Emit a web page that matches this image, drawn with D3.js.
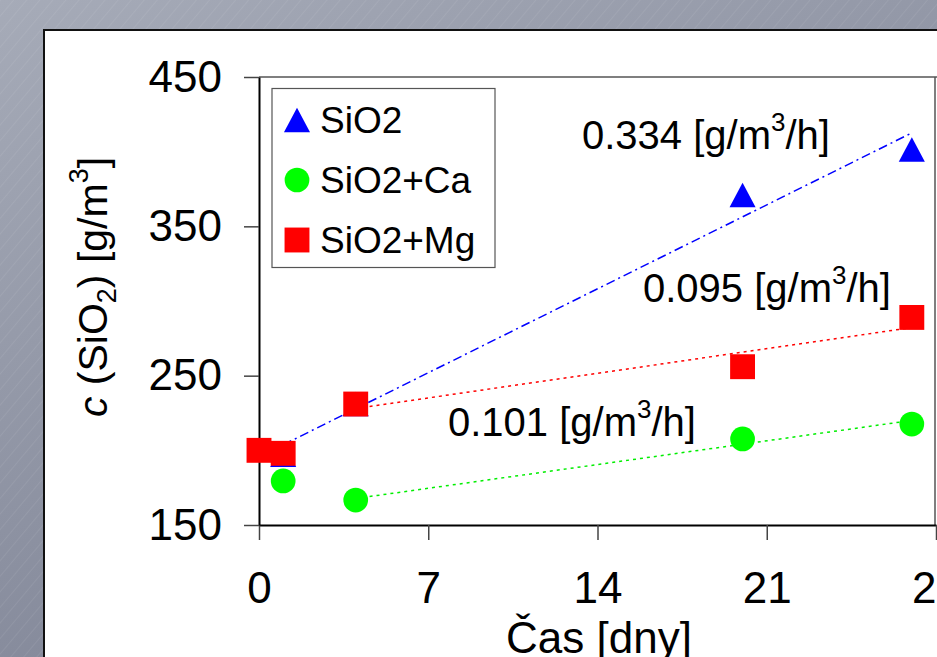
<!DOCTYPE html>
<html><head><meta charset="utf-8">
<script src="https://cdn.jsdelivr.net/npm/d3@7"></script>
<style>html,body{margin:0;padding:0;overflow:hidden;background:#9a9fad}</style>
</head><body><svg id="c" width="937" height="657" xmlns="http://www.w3.org/2000/svg"></svg>
<script>
// ---- data ----
const xTicks = [0, 7, 14, 21, 28];
const yTicks = [150, 250, 350, 450];
const seriesNames = ["SiO2", "SiO2+Ca", "SiO2+Mg"];
const sio2Days = [1, 4, 20, 27];
const sio2Values = [197, 231, 371, 401.5];
const caDays = [1, 4, 20, 27];
const caValues = [179.5, 166.7, 207.6, 217.6];
const mgDays = [0, 1, 4, 20, 27];
const mgValues = [200, 198, 231, 256, 289];
const fitFromDay = [1, 4, 4];          // trend lines fitted from this day on
const rateLabels = ["0.334", "0.101", "0.095"];
const rateUnit = ["[g/m", "3", "/h]"];
const xTitle = "Čas [dny]";

// ---- layout ----
const W = 937, H = 657;
const svg = d3.select("#c");
const font = "Liberation Sans, Arial, Helvetica, sans-serif";

// background with diagonal stripes
const defs = svg.append("defs");
const grad = defs.append("linearGradient").attr("id", "bg").attr("x1", 0).attr("y1", 0).attr("x2", 0.6).attr("y2", 1);
grad.append("stop").attr("offset", "0%").attr("stop-color", "#a6abb8");
grad.append("stop").attr("offset", "100%").attr("stop-color", "#7c8193");
const pat = defs.append("pattern").attr("id", "stripes").attr("patternUnits", "userSpaceOnUse")
  .attr("width", 10).attr("height", 10).attr("patternTransform", "rotate(40)");
pat.append("line").attr("x1", 0).attr("y1", 0).attr("x2", 0).attr("y2", 10)
  .attr("stroke", "rgba(255,255,255,0.18)").attr("stroke-width", 0.8);
svg.append("rect").attr("width", W).attr("height", H).attr("fill", "url(#bg)");
svg.append("rect").attr("width", W).attr("height", H).attr("fill", "url(#stripes)");

// white panel
svg.append("rect").attr("x", 44).attr("y", 30).attr("width", 1000).attr("height", 1000)
  .attr("fill", "#fff").attr("stroke", "#111").attr("stroke-width", 2);

const x = d3.scaleLinear().domain([0, 28]).range([259, 936]);
const y = d3.scaleLinear().domain([150, 450]).range([525, 77]);

// plot frame (top / right)
svg.append("line").attr("x1", x(0)).attr("x2", W).attr("y1", y(450)).attr("y2", y(450))
  .attr("stroke", "#555").attr("stroke-width", 1.5);
svg.append("line").attr("x1", 935).attr("x2", 935).attr("y1", y(450)).attr("y2", y(150))
  .attr("stroke", "#555").attr("stroke-width", 1.5);

// axes
const gx = svg.append("g").attr("transform", `translate(0,${y(150)})`)
  .call(d3.axisBottom(x).tickValues(xTicks).tickSize(15).tickPadding(32).tickSizeOuter(0));
const gy = svg.append("g").attr("transform", `translate(${x(0)},0)`)
  .call(d3.axisLeft(y).tickValues(yTicks).tickSize(15).tickPadding(22).tickSizeOuter(0));
[gx, gy].forEach(g => {
  g.select(".domain").attr("stroke", "#000").attr("stroke-width", 2);
  g.selectAll(".tick line").attr("stroke", "#444").attr("stroke-width", 1.5);
  g.selectAll(".tick text").attr("font-family", font).attr("font-size", 44).attr("fill", "#000");
});
gx.selectAll(".tick text").attr("dy", "0.71em");

// trend lines (least squares)
function fit(days, vals, from) {
  const pts = days.map((d, i) => [d, vals[i]]).filter(p => p[0] >= from);
  const mx = d3.mean(pts, p => p[0]), my = d3.mean(pts, p => p[1]);
  const b = d3.sum(pts, p => (p[0] - mx) * (p[1] - my)) / d3.sum(pts, p => (p[0] - mx) ** 2);
  const a = my - b * mx;
  const x0 = d3.min(pts, p => p[0]), x1 = d3.max(pts, p => p[0]);
  return [[x0, a + b * x0], [x1, a + b * x1]];
}
const line = d3.line().x(p => x(p[0])).y(p => y(p[1]));
const colors = ["#0000ff", "#00ee00", "#ff0000"];
const allDays = [sio2Days, caDays, mgDays], allVals = [sio2Values, caValues, mgValues];
const dashes = ["9,4,2,4", "3,4", "3,4"];
allDays.forEach((d, i) => {
  svg.append("path").attr("d", line(fit(d, allVals[i], fitFromDay[i])))
    .attr("fill", "none").attr("stroke", colors[i]).attr("stroke-width", 1.5)
    .attr("stroke-dasharray", dashes[i]);
});

// markers
const tri = { draw(ctx, size) { const s = Math.sqrt(size); const h = s * 0.47, w = s * 0.5;
  ctx.moveTo(0, -h); ctx.lineTo(w, h); ctx.lineTo(-w, h); ctx.closePath(); } };
const symTypes = [tri, d3.symbolCircle, d3.symbolSquare];
const symSizes = [680, 480, 620];
const symbol = i => d3.symbol().type(symTypes[i]).size(symSizes[i])();
[0, 1, 2].forEach(i => {
  svg.append("g").selectAll("path").data(allDays[i].map((d, j) => [d, allVals[i][j]])).join("path")
    .attr("d", symbol(i)).attr("transform", p => `translate(${x(p[0])},${y(p[1])})`)
    .attr("fill", i === 1 ? "#00ff00" : colors[i]);
});

// legend
const lg = svg.append("g");
lg.append("rect").attr("x", 272).attr("y", 88.5).attr("width", 223).attr("height", 179)
  .attr("fill", "#fff").attr("stroke", "#555").attr("stroke-width", 1.2);
seriesNames.forEach((n, i) => {
  const cy = 120 + i * 60;
  lg.append("path").attr("d", symbol(i)).attr("transform", `translate(297,${cy})`)
    .attr("fill", i === 1 ? "#00ff00" : colors[i]);
  lg.append("text").attr("x", 320).attr("y", cy + 13).attr("font-family", font)
    .attr("font-size", 37).text(n);
});

// rate annotations
const annPos = [[582, 149], [448, 436], [643, 302]];
rateLabels.forEach((r, i) => {
  const t = svg.append("text").attr("x", annPos[i][0]).attr("y", annPos[i][1])
    .attr("font-family", font).attr("font-size", 40);
  t.append("tspan").text(r + " " + rateUnit[0]);
  t.append("tspan").attr("font-size", 26).attr("dy", -18).text(rateUnit[1]);
  t.append("tspan").attr("dy", 18).text(rateUnit[2]);
});

// y title
const yt = svg.append("text").attr("transform", "translate(107,287) rotate(-90)")
  .attr("text-anchor", "middle").attr("font-family", font).attr("font-size", 41);
yt.append("tspan").attr("font-style", "italic").text("c");
yt.append("tspan").text(" (SiO");
yt.append("tspan").attr("font-size", 27).attr("dy", 9).text("2");
yt.append("tspan").attr("dy", -9).text(") [g/m");
yt.append("tspan").attr("font-size", 27).attr("dy", -19).text("3");
yt.append("tspan").attr("dy", 19).text("]");

// x title
svg.append("text").attr("x", 599).attr("y", 653).attr("text-anchor", "middle")
  .attr("font-family", font).attr("font-size", 44).text(xTitle);
</script></body></html>
